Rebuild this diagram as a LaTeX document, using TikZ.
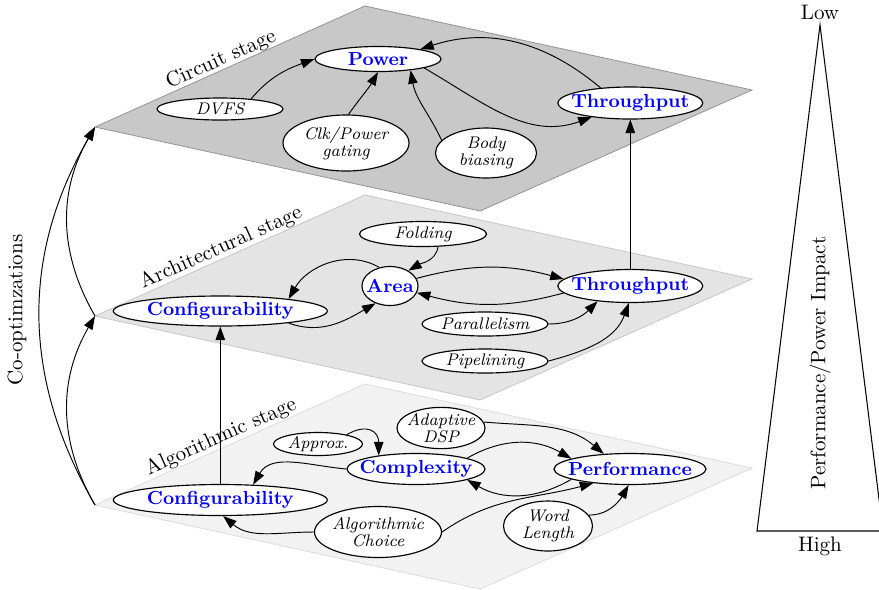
\documentclass[tikz,border=0pt]{standalone}
\usetikzlibrary{arrows.meta,shapes.geometric}
\definecolor{circuitfill}{RGB}{200,200,200}
\definecolor{circuitline}{RGB}{150,150,150}
\definecolor{archfill}{RGB}{228,228,228}
\definecolor{archline}{RGB}{200,200,200}
\definecolor{algofill}{RGB}{242,242,242}
\definecolor{algoline}{RGB}{222,222,222}
\begin{document}
\begin{tikzpicture}[x=0.476pt,y=-0.476pt,
  sz/.style 2 args={minimum width=#1*0.476pt,minimum height=#2*0.476pt},
  base/.style={ellipse,draw,fill=white,line width=0.55pt,inner ysep=0pt,inner xsep=-6pt,align=center},
  key/.style={base,font=\small\bfseries,text=blue},
  opt/.style={base,font=\fontsize{8pt}{8pt}\selectfont\itshape},
  link/.style={line width=0.45pt,-{Triangle[length=6.4pt,width=4.5pt]}},
  stagelbl/.style={rotate=24.1},
]
\useasboundingbox (0,0) rectangle (879,589);

% the three stage planes
\filldraw[fill=algofill,draw=algoline,line width=0.4pt]
  (95,505) -- (365,384) -- (752,468) -- (480,589) -- cycle;
\filldraw[fill=archfill,draw=archline,line width=0.4pt]
  (95,316) -- (365,195) -- (752,279) -- (480,400) -- cycle;
\filldraw[fill=circuitfill,draw=circuitline,line width=0.4pt]
  (95,127) -- (365,6) -- (752,90) -- (480,211) -- cycle;

\node[stagelbl] (lblC) at (221,60) {Circuit stage};
\node[stagelbl] (lblB) at (221,248) {Architectural stage};
\node[stagelbl] (lblA) at (221,437) {Algorithmic stage};

% left corners of the planes
\coordinate (cL) at (95,127);
\coordinate (aL) at (95,316);
\coordinate (gL) at (95,505);

% circuit stage
\node[key,sz={126}{25}] (power) at (378,59) {Power};
\node[opt,sz={126}{22}] (dvfs) at (220,109) {DVFS};
\node[opt,sz={126}{56}] (clk) at (346,143) {Clk/Power\\gating};
\node[opt,sz={101}{50}] (body) at (486,153) {Body\\biasing};
\node[key,sz={145}{32}] (tpC) at (630.3,103) {Throughput};

% architectural stage
\node[opt,sz={127}{25}] (fold) at (423,234) {Folding};
\node[key,sz={56}{39}] (area) at (390,286) {Area};
\node[key,sz={145}{33}] (tpB) at (630.3,286) {Throughput};
\node[key,sz={214}{30}] (cfgB) at (220.3,311) {Configurability};
\node[opt,sz={126}{24}] (par) at (485,324) {Parallelism};
\node[opt,sz={126}{24}] (pipe) at (485,361) {Pipelining};

% algorithmic stage
\node[opt,sz={89}{23}] (apx) at (318,444) {Approx.};
\node[opt,sz={88}{41}] (dsp) at (441,428) {Adaptive\\DSP};
\node[key,sz={138}{31}] (cx) at (416,469) {Complexity};
\node[key,sz={152}{31}] (perf) at (630,469) {Performance};
\node[key,sz={214}{31}] (cfgA) at (220.3,500) {Configurability};
\node[opt,sz={127}{51}] (alg) at (378,532) {Algorithmic\\Choice};
\node[opt,sz={89}{50}] (wl) at (548,526) {Word\\Length};

% circuit stage links
\draw[link] (dvfs.18) to[out=50,in=200] (power.west);
\draw[link] (clk.85) to[out=55,in=-120] (power.south);
\draw[link] (body.164) to[out=115,in=-80] (power.-19);
\draw[link] (power.-11) to[out=-30,in=200] (tpC.200);
\draw[link] (tpC.153) to[out=140,in=18] (power.13);

% architectural stage links
\draw[link] (fold.-40) to[out=-100,in=30] (area.40);
\draw[link] (area.120) to[out=150,in=60] (cfgB.10);
\draw[link] (cfgB.-10) to[out=-20,in=210] (area.230);
\draw[link] (area.16) to[out=15,in=165] (tpB.174);
\draw[link] (tpB.186) to[out=195,in=-15] (area.-14);
\draw[link] (par.east) to[out=0,in=225] (tpB.205);
\draw[link] (pipe.east) to[out=15,in=250] (tpB.265);

% algorithmic stage links
\draw[link] (apx.18) to[out=30,in=90,looseness=1.6] (cx.160);
\draw[link] (dsp.8) to[out=-5,in=140] (perf.150);
\draw[link] (cx.12) to[out=30,in=150] (perf.170);
\draw[link] (perf.190) to[out=210,in=-30] (cx.-12);
\draw[link] (cx.west) to[out=175,in=60] (cfgA.25);
\draw[link] (alg.west) to[out=180,in=-40] (cfgA.-80);
\draw[link] (alg.east) to[out=35,in=195] (perf.201);
\draw[link] (wl.15) to[out=0,in=-120] (perf.-95);

% links between stages
\draw[link] (tpB.north) -- (tpC.south);
\draw[link] (cfgA.north) -- (cfgB.south);

% co-optimizations
\draw[link] (gL) to[out=120,in=-120] (aL);
\draw[link] (gL) to[out=120,in=-120] (cL);
\draw[link] (aL) to[out=120,in=-120] (cL);
\node[rotate=90] (coopt) at (17,310) {Co-optimzations};

% impact scale
\draw[line width=0.5pt] (820,25) -- (757,531) -- (883,531) -- cycle;
\node (low) at (820,12) {Low};
\node (high) at (820,546) {High};
\node[rotate=90] (impact) at (820,363) {Performance/Power Impact};
\end{tikzpicture}
\end{document}
